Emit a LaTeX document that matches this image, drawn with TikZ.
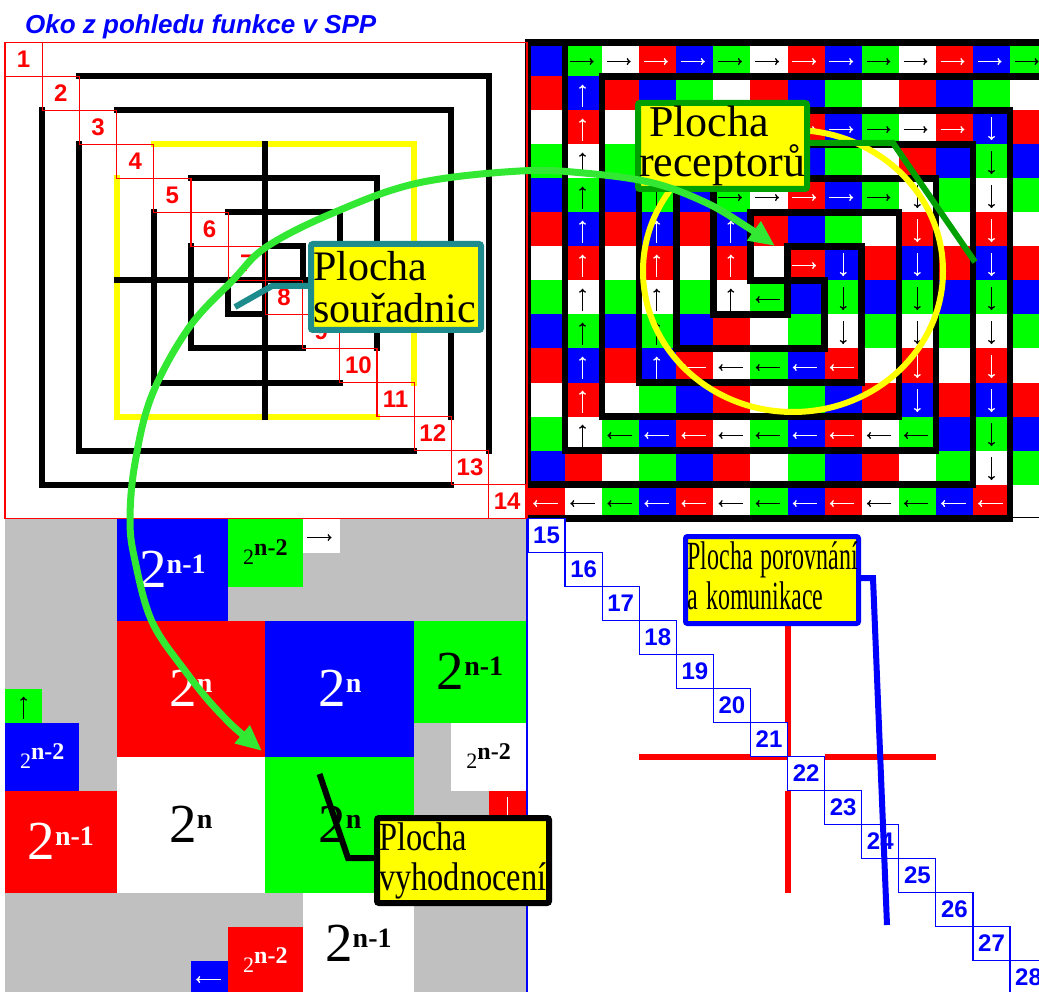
\documentclass[tikz,border=0pt]{standalone}
\usepackage{fontspec}
\usepackage{graphicx}
\setmainfont{Liberation Serif}
\newfontfamily\arialf{Liberation Sans}
\usetikzlibrary{arrows.meta}
\definecolor{cB}{RGB}{0,0,255}
\definecolor{cR}{RGB}{255,0,0}
\definecolor{cG}{RGB}{0,255,0}
\definecolor{cW}{RGB}{255,255,255}
\definecolor{cGrey}{RGB}{192,192,192}
\definecolor{cY}{RGB}{255,255,0}
\definecolor{dgreen}{RGB}{0,160,0}
\definecolor{tealc}{RGB}{30,140,140}
\definecolor{garrow}{RGB}{50,232,50}
\newcommand{\pwbig}[1]{{\fontsize{55}{55}\selectfont 2}\raisebox{14pt}{\fontsize{28}{28}\selectfont\bfseries #1}}
\newcommand{\pwsmall}[1]{{\fontsize{22}{22}\selectfont 2}\raisebox{9pt}{\fontsize{24}{24}\selectfont\bfseries #1}}
\newcommand{\narrowtxt}[2]{\scalebox{#1}[1]{#2}}
\begin{document}
\begin{tikzpicture}[x=1pt,y=-1pt,
  wall/.style={line width=6.5pt,line cap=rect,line join=miter},
  ring/.style={line width=6pt,line cap=rect,line join=miter},
  arr/.style={line width=1.3pt,-{To[length=4pt,width=7pt]}},
  rbox/.style={draw=cR,line width=1.2pt},
  bbox/.style={draw=cB,fill=white,line width=1.2pt},
  rnum/.style={text=cR,font=\arialf\bfseries\fontsize{24}{24}\selectfont,inner sep=0pt},
  bnum/.style={text=cB,font=\arialf\bfseries\fontsize{24}{24}\selectfont,inner sep=0pt},
  wt/.style={text=white,inner sep=0pt},
  bt/.style={text=black,inner sep=0pt},
  lbl/.style={fill=cY,rounded corners=2pt,inner sep=0pt,align=left},
  callout/.style={line width=6pt,line join=miter}
]
\useasboundingbox (0,0) rectangle (1039,992);
\fill[white] (0,0) rectangle (1039,992);

% title
\node[anchor=base west,inner sep=0pt,text=cB,font=\arialf\bfseries\itshape\fontsize{26}{30}\selectfont] (title) at (25,33.3) {Oko z pohledu funkce v SPP};

% ---------------- right grid ----------------
\begin{scope}[xshift=528pt,yshift=-42.5pt,x=37.08pt,y=-34pt]
\foreach \row [count=\ri from 0] in {
 {B,G,W,R,B,G,W,R,B,G,W,R,B,G},
 {R,B,R,B,G,W,R,B,G,W,R,B,G,W},
 {W,R,W,R,B,G,W,R,B,G,W,R,B,R},
 {G,W,G,B,G,W,R,B,G,W,R,B,G,B},
 {B,G,B,G,B,G,W,R,B,G,W,G,W,G},
 {R,B,R,B,R,B,R,B,G,W,R,W,R,W},
 {W,R,W,R,W,R,W,R,B,R,B,R,B,R},
 {G,W,G,W,G,W,G,B,G,B,G,B,G,B},
 {B,G,B,G,B,R,W,G,W,G,W,G,W,G},
 {R,B,R,B,R,W,G,B,R,W,R,W,R,W},
 {W,R,W,G,B,R,W,G,B,R,B,R,B,R},
 {G,W,G,B,R,W,G,B,R,W,G,B,G,B},
 {B,R,W,G,B,R,W,G,B,R,W,G,W,G},
 {R,W,G,B,R,W,G,B,R,W,G,B,R,W}}{
  \foreach \cl [count=\ci from 0] in \row {
    \fill[c\cl] (\ci,\ri) rectangle (\ci+1,\ri+1);
  }
}
% arrows
\foreach \ri/\ci/\k in {0/1/black,0/2/black,0/3/white,0/4/white,0/5/black,0/6/black,0/7/white,0/8/white,0/9/black,0/10/black,0/11/white,0/12/white,0/13/black,2/3/white,2/4/white,2/5/black,2/6/black,2/7/white,2/8/white,2/9/black,2/10/black,2/11/white,4/5/black,4/6/black,4/7/white,4/8/white,4/9/black,6/7/white}
  \draw[arr,\k] (\ci+0.13,\ri+0.56) -- (\ci+0.77,\ri+0.56);
\foreach \ri/\ci/\k in {13/0/white,13/1/black,13/2/black,13/3/white,13/4/white,13/5/black,13/6/black,13/7/white,13/8/white,13/9/black,13/10/black,13/11/white,13/12/white,11/2/black,11/3/white,11/4/white,11/5/black,11/6/black,11/7/white,11/8/white,11/9/black,11/10/black,9/4/white,9/5/black,9/6/black,9/7/white,9/8/white,7/6/black}
  \draw[arr,\k] (\ci+0.8,\ri+0.56) -- (\ci+0.14,\ri+0.56);
\foreach \ri/\ci/\k in {1/1/white,2/1/white,3/1/black,4/1/black,5/1/white,6/1/white,7/1/black,8/1/black,9/1/white,10/1/white,11/1/black,3/3/white,4/3/black,5/3/white,6/3/white,7/3/black,8/3/black,9/3/white,5/5/white,6/5/white,7/5/black}
  \draw[arr,\k] (\ci+0.47,\ri+0.9) -- (\ci+0.47,\ri+0.24);
\foreach \ri/\ci/\k in {2/12/white,3/12/black,4/12/black,5/12/white,6/12/white,7/12/black,8/12/black,9/12/white,10/12/white,11/12/black,12/12/black,4/10/black,5/10/white,6/10/white,7/10/black,8/10/black,9/10/white,10/10/white,6/8/white,7/8/black,8/8/black}
  \draw[arr,\k] (\ci+0.5,\ri+0.2) -- (\ci+0.5,\ri+0.87);
% walls
\draw[wall] (15,0) -- (1,0) -- (1,12) -- (11,12) -- (11,4) -- (4,4) -- (4,9) -- (8,9) -- (8,7);
\draw[wall] (15,1) -- (2,1) -- (2,11) -- (10,11) -- (10,5) -- (6,5) -- (6,7) -- (8,7);
\draw[wall] (0,14) -- (13,14) -- (13,2) -- (3,2) -- (3,10) -- (9,10) -- (9,6) -- (7,6) -- (7,8);
\draw[wall] (1,0) -- (0,0) -- (0,13) -- (12,13) -- (12,3) -- (5,3) -- (5,8) -- (7,8);
\end{scope}
\draw[line width=1.5pt] (1010,517.5) -- (1039,517.5);

% yellow ring
\draw[cY,line width=6pt] (793,271) ellipse [x radius=150pt,y radius=141pt];

% ---------------- bottom left ----------------
\begin{scope}[xshift=5pt,yshift=-42.5pt,x=37.2pt,y=-34pt]
\fill[cGrey] (0,14) rectangle (14.03,28.2);
\fill[cB] (3,14) rectangle (6,17); \node[wt] (b1) at (4.5,15.5) {\pwbig{n-1}};
\fill[cG] (6,14) rectangle (8,16); \node[bt] (b2) at (7,15) {\pwsmall{n-2}};
\fill[cW] (8,14) rectangle (9,15); \draw[arr,black] (8.12,14.56) -- (8.78,14.56);
\fill[cR] (3,17) rectangle (7,21); \node[wt] (b3) at (5,19) {\pwbig{n}};
\fill[cB] (7,17) rectangle (11,21); \node[wt] (b4) at (9,19) {\pwbig{n}};
\fill[cG] (11,17) rectangle (14.03,20); \node[bt] (b5) at (12.5,18.5) {\pwbig{n-1}};
\fill[cW] (12,20) rectangle (14.03,22); \node[bt] (b6) at (13,21) {\pwsmall{n-2}};
\fill[cG] (0,19) rectangle (1,20); \draw[arr,black] (0.5,19.9) -- (0.5,19.24);
\fill[cB] (0,20) rectangle (2,22); \node[wt] (b7) at (1,21) {\pwsmall{n-2}};
\fill[cR] (0,22) rectangle (3,25); \node[wt] (b8) at (1.5,23.5) {\pwbig{n-1}};
\fill[cW] (3,21) rectangle (7,25); \node[bt] (b9) at (5,23) {\pwbig{n}};
\fill[cG] (7,21) rectangle (11,25); \node[bt] (b10) at (9,23) {\pwbig{n}};
\fill[cR] (13,22) rectangle (14.03,23); \draw[arr,white] (13.5,22.2) -- (13.5,22.87);
\fill[cW] (8,25) rectangle (11,28.2); \node[bt] (b11) at (9.5,26.5) {\pwbig{n-1}};
\fill[cR] (6,26) rectangle (8,28.2); \node[wt] (b12) at (7,27) {\pwsmall{n-2}};
\fill[cB] (5,27) rectangle (6,28.2); \draw[arr,white] (5.8,27.56) -- (5.14,27.56);
\end{scope}

% ---------------- top left ----------------
\draw[rbox] (5,42.5) rectangle (527,518.5);
\begin{scope}[xshift=5pt,yshift=-42.5pt,x=37.2pt,y=-34pt]
\draw[ring] (2,1) -- (13,1) -- (13,12);
\draw[ring] (3,2) -- (12,2) -- (12,11);
\draw[ring] (1,2) -- (1,13) -- (12,13);
\draw[ring] (2,3) -- (2,12) -- (11,12);
\draw[ring,cY] (4,3) -- (11,3) -- (11,10);
\draw[ring,cY] (3,4) -- (3,11) -- (10,11);
\draw[ring] (5,4) -- (10,4) -- (10,9);
\draw[ring] (4,5) -- (4,10) -- (9,10);
\draw[ring] (6,5) -- (9,5) -- (9,8);
\draw[ring] (5,6) -- (5,9) -- (8,9);
\draw[ring] (7,6) -- (8,6) -- (8,7);
\draw[ring] (6,7) -- (6,8) -- (7,8);
\draw[ring] (7,3) -- (7,11);
\draw[ring] (3,7) -- (11,7);
\foreach \n in {1,...,14}{
  \draw[rbox] (\n-1,\n-1) rectangle (\n,\n);
  \node[rnum] (rn\n) at (\n-0.5,\n-0.5) {\n};
}
\end{scope}

% ---------------- bottom right ----------------
\draw[cR,line width=6pt] (787.6,620) -- (787.6,756.5);
\draw[cR,line width=6pt] (639.2,756.5) -- (790.6,756.5);
\draw[cR,line width=6pt] (787.6,790.5) -- (787.6,892.5);
\draw[cR,line width=6pt] (824.6,756.5) -- (936,756.5);
\draw[cB,line width=1.2pt] (527,518.5) -- (527,992);
\begin{scope}[xshift=528pt,yshift=-42.5pt,x=37.08pt,y=-34pt]
\foreach \n in {15,...,28}{
  \pgfmathtruncatemacro\cc{\n-15}
  \draw[bbox] (\cc,\n-1) rectangle (\cc+1,\n);
  \node[bnum] (bn\n) at (\cc+0.5,\n-0.5) {\n};
}
\end{scope}

% ---------------- labels ----------------
\node[lbl,draw=dgreen,line width=6pt,minimum width=169pt,minimum height=86pt,text width=167pt,font=\fontsize{44}{40}\selectfont] (lblR) at (722.5,146) {\hspace*{10pt}Plocha\\receptorů};
\node[lbl,draw=tealc,line width=6pt,minimum width=170pt,minimum height=86pt,text width=166pt,font=\fontsize{42}{42}\selectfont] (lblS) at (396,287) {Plocha\\souřadnic};
\node[lbl,draw=cB,line width=5pt,minimum width=173pt,minimum height=87pt,text width=169pt,font=\fontsize{40}{40}\selectfont] (lblP) at (772,580) {\narrowtxt{0.6}{Plocha porovnání}\\\narrowtxt{0.6}{a komunikace}\rule[-8pt]{0pt}{8pt}};
\node[lbl,draw=black,line width=6pt,minimum width=172pt,minimum height=85pt,text width=168pt,font=\fontsize{40}{40}\selectfont] (lblV) at (463,860.5) {\narrowtxt{0.81}{Plocha}\\\narrowtxt{0.81}{vyhodnocení}};

% callouts
\coordinate (rc1) at (893,143); \coordinate (rc2) at (975,262);
\draw[callout,dgreen] (lblR.east |- rc1) -- (rc1) -- (rc2);
\coordinate (sc1) at (272,286); \coordinate (sc2) at (235,307);
\draw[callout,tealc] (lblS.west |- sc1) -- (sc1) -- (sc2);
\coordinate (pc1) at (873,578); \coordinate (pc2) at (887,925);
\draw[callout,cB] (lblP.east |- pc1) -- (pc1) -- (pc2);
\coordinate (vc1) at (348,858); \coordinate (vc2) at (319.5,774);
\draw[callout,black] (lblV.west |- vc1) -- (vc1) -- (vc2);

% green double arrow
\coordinate (gL) at (262,751);
\coordinate (gR) at (775,246);
\draw[garrow,line width=7pt,{Triangle[length=26pt,width=22pt]}-{Triangle[length=26pt,width=22pt]}]
  plot[smooth,tension=0.6] coordinates {(gL) (219.7,712.8) (186,672) (152,621.6) (135,560.7) (130,520) (135,463) (152,395) (189,327.6) (233,280) (266.7,246.7) (333,213) (416.7,183.3) (520,171) (586.7,173.3) (653,183) (706.7,203) (746.7,226.7) (gR)};
\end{tikzpicture}
\end{document}
